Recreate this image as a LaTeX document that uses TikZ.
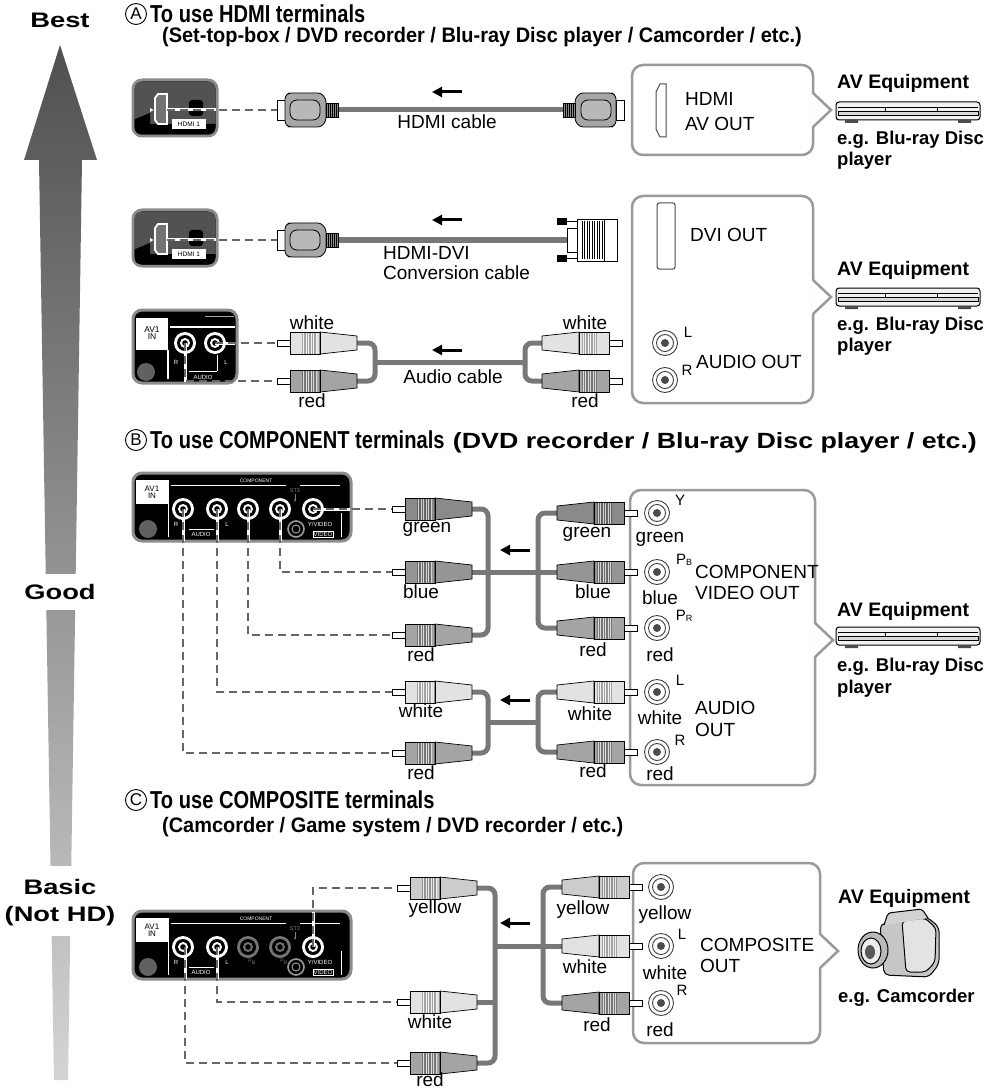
\documentclass[tikz,border=0pt]{standalone}
\usepackage{fontspec}
\usepackage{graphicx}
\setmainfont{Liberation Sans}
\newfontfamily\titlefont[FakeStretch=0.82]{Liberation Sans}
\newfontfamily\subfont[FakeStretch=0.95]{Liberation Sans}
\newfontfamily\widefont[FakeStretch=1.3]{Liberation Sans}
\usetikzlibrary{arrows.meta}
\definecolor{cablegray}{HTML}{787878}
\definecolor{dashgray}{HTML}{666666}
\definecolor{boxgray}{HTML}{9A9A9A}
\definecolor{arrowtop}{HTML}{505050}
\definecolor{arrowbot}{HTML}{D4D4D4}
\definecolor{pwhite}{HTML}{E2E2E2}
\definecolor{pred}{HTML}{A4A4A4}
\definecolor{pgreen}{HTML}{8A8A8A}
\definecolor{pblue}{HTML}{959595}
\definecolor{pyellow}{HTML}{CCCCCC}
\definecolor{panelrim}{HTML}{8C8C8C}
\tikzset{
 lbl/.style={font=\fontsize{19}{21}\selectfont, inner sep=0pt},
 wlbl/.style={lbl, anchor=west},
 suplbl/.style={font=\fontsize{15}{15}\selectfont, inner sep=0pt},
 eqlbl/.style={font=\bfseries\fontsize{19.5}{22}\selectfont, inner sep=0pt, anchor=west},
 eglbl/.style={font=\bfseries\fontsize{18.5}{21}\selectfont, inner sep=0pt, anchor=west},
 tinylbl/.style={font=\fontsize{6}{7}\selectfont, inner sep=0pt, text=white},
 cable/.style={draw=cablegray, line width=5pt, rounded corners=7pt},
 dline/.style={draw=dashgray, line width=2.6pt, dash pattern=on 8pt off 5pt},
 wline/.style={draw=white, line width=3pt},
 outbox/.style={draw=boxgray, line width=2.5pt, rounded corners=11pt, fill=white},
 larrow/.style={line width=3pt, -{Triangle[length=10pt,width=10pt]}},
 panel/.style={fill=black, draw=panelrim, line width=3pt, rounded corners=9pt},
 bigtitle/.style={font=\titlefont\bfseries\fontsize{24.5}{26}\selectfont, inner sep=0pt, anchor=west},
 subtitle/.style={font=\subfont\bfseries\fontsize{21}{23}\selectfont, inner sep=0pt, anchor=west},
 circletter/.style={circle, draw, line width=0.9pt, minimum size=21pt, inner sep=0pt, font=\fontsize{17}{17}\selectfont},
 sidelbl/.style={font=\widefont\bfseries\fontsize{21}{27}\selectfont, inner sep=0pt, align=center},
}
% RCA plug: pin tip at (x,y); dir 1 = body extends right, -1 = left
\newcommand\rcaplug[4]{%
 \begin{scope}[shift={(#1,#2)}, xscale=#3]
 \draw[line width=0.6pt, fill=white] (0,-2.8) rectangle (13,2.8);
 \draw[line width=0.7pt, fill=#4] (13,-11) rectangle (43,11);
 \fill[#4!72!black] (25,-11) rectangle (40,11);
 \foreach \i in {26.5,29,...,39} \draw[line width=0.5pt, draw=#4!40] (\i,-11)--(\i,11);
 \draw[line width=0.7pt, fill=#4] (43,-11) -- (80,-7) -- (80,7) -- (43,11) -- cycle;
 \draw[line width=0.7pt] (13,-11) rectangle (43,11);
 \end{scope}}
\newcommand\hdmiplug[3]{%
 \begin{scope}[shift={(#1,#2)}, xscale=#3]
 \draw[line width=0.7pt, fill=white] (0,-10) rectangle (8,10);
 \draw[line width=0.8pt, fill=black!35, rounded corners=3pt] (8,-14) -- (12,-17) -- (44,-17) -- (49,-11) -- (49,11) -- (44,17) -- (12,17) -- (8,14) -- cycle;
 \draw[line width=0.8pt, fill=black!28, rounded corners=7pt] (13,-10) rectangle (43,10);
 \draw[line width=0.7pt, fill=black!45] (49,-7) rectangle (61,7);
 \foreach \i in {51,53,...,59} \draw[line width=0.4pt] (\i,-7)--(\i,7);
 \end{scope}}
\newcommand\dviplug[2]{%
 \begin{scope}[shift={(#1,#2)}]
 \fill (0,-22) rectangle (10,-15); \fill (0,15) rectangle (10,22);
 \draw[line width=0.8pt] (10,-18.5) -- (20,-18.5) (10,18.5) -- (20,18.5);
 \draw[line width=0.8pt, fill=white] (10,-12) rectangle (20,12);
 \draw[line width=0.9pt, fill=white] (20,-21) rectangle (60,21);
 \foreach \i in {25,27.5,...,45} \draw[line width=0.6pt] (\i,-19) -- (\i,19);
 \draw[line width=0.8pt] (47,-21) -- (47,21);
 \end{scope}}
\newcommand\tvjack[3][white]{%
 \fill[#1] (#2,#3) circle[radius=11pt];
 \fill[black] (#2,#3) circle[radius=8pt];
 \fill[#1] (#2,#3) circle[radius=5pt];
 \fill[black] (#2,#3) circle[radius=2.8pt];}
\newcommand\outjack[2]{%
 \draw[line width=0.9pt, draw=black!75, fill=white] (#1,#2) circle[radius=12.5pt];
 \draw[line width=0.9pt, draw=black!75] (#1,#2) circle[radius=8.5pt];
 \fill[black!70] (#1,#2) circle[radius=4pt];}
\newcommand\pointer[2]{%
 \fill[white] ({#1-1.6},{#2-17}) -- ({#1+18},#2) -- ({#1-1.6},{#2+17}) -- cycle;
 \draw[boxgray, line width=2.5pt, line join=miter] (#1,{#2-17}) -- ({#1+18},#2) -- (#1,{#2+17});}
\newcommand\player[1]{%
 \draw[line width=1pt, fill=gray!10, rounded corners=3pt] (836,#1) rectangle (980,{#1+18});
 \draw[line width=0.8pt] (838,{#1+5}) -- (978,{#1+5});
 \draw[line width=0.8pt, fill=gray!30] (838,{#1+9}) rectangle (978,{#1+13});
 \draw[line width=0.8pt] (885,{#1+5}) -- (885,{#1+9}) (937,{#1+5}) -- (937,{#1+9});
 \fill[black!70] (845,{#1+18}) rectangle (858,{#1+21}) (958,{#1+18}) rectangle (971,{#1+21});}
\newcommand\hdmipanel[2]{%
 \draw[panel] (133,#2) rectangle (217,{#2+56});
 \begin{scope}
 \clip[rounded corners=7pt] (134.5,{#2+1.5}) rectangle (215.5,{#2+54.5});
 \fill[black!68] (133,#2) rectangle (217,{#2+56});
 \fill[black] (133,{#2+56}) -- (133,{#2+40}) -- (150,{#2+33}) -- (150,{#2+44}) -- (217,{#2+44}) -- (217,{#2+56}) -- cycle;
 \fill[black, rounded corners=3pt] (189,{#2+20}) rectangle (203,{#2+36});
 \end{scope}
 \draw[white, line width=1.8pt, fill=black!55] (158,{#2+14}) -- (167,{#2+14}) -- (167,{#2+44}) -- (158,{#2+44}) -- (155,{#2+40}) -- (155,{#2+18}) -- cycle;
 \fill[white] (150,{#2+28}) -- (153.5,{#2+30}) -- (150,{#2+32}) -- cycle;
 \fill[white] (172,{#2+39}) rectangle (206,{#2+49});
 \node[font=\fontsize{6.5}{7}\selectfont, inner sep=0pt] (#1) at (189,{#2+44}) {HDMI 1};}
\newcommand\comppanel[3]{%
 \draw[panel] (133,#2) rectangle (351,{#2+68});
 \fill[black!62] (148,{#2+56}) circle[radius=9pt];
 \fill[white] (136,{#2+7}) rectangle (168,{#2+31});
 \node[font=\fontsize{8}{8}\selectfont, align=center, inner sep=0pt] (#1av) at (152,{#2+19}) {AV1\\[-1pt]IN};
 \draw[white, line width=1pt] (168,{#2+7}) -- (168,{#2+64});
 \draw[white, line width=1pt] (171,{#2+12}) -- (286,{#2+12}) (300,{#2+12}) -- (340,{#2+12});
 \node[tinylbl, font=\fontsize{5}{5}\selectfont] (#1cp) at (256,{#2+8}) {COMPONENT};
 \node[tinylbl, text=gray, font=\fontsize{5.5}{5}\selectfont] (#1st) at (295,{#2+18}) {ST3};
 \draw[gray, line width=0.7pt, -{Stealth[length=3pt]}] (295,{#2+21}) -- (295,{#2+29});
 \tvjack{183}{#2+36} \tvjack{217}{#2+36} \tvjack[#3]{248}{#2+36} \tvjack[#3]{280}{#2+36} \tvjack{313}{#2+36}
 \draw[gray!80, line width=1.6pt] (296,{#2+56}) circle[radius=8pt];
 \draw[gray!80, line width=1pt] (296,{#2+56}) circle[radius=4pt];
 \node[tinylbl] (#1r) at (176,{#2+51}) {R};
 \node[tinylbl] (#1l) at (227,{#2+51}) {L};
 \node[tinylbl] (#1au) at (201,{#2+61}) {AUDIO};
 \draw[white, line width=0.8pt] (189,{#2+56}) -- (214,{#2+56});
 \node[tinylbl] (#1yv) at (320,{#2+51}) {Y/VIDEO};
 \node[tinylbl, draw=white, line width=0.6pt, inner sep=0.8pt] (#1vd) at (323,{#2+61}) {VIDEO};
 \draw[white, line width=1pt] (341,{#2+40}) -- (341,{#2+64});}
\begin{document}
\begin{tikzpicture}[x=1pt,y=-1pt]
\useasboundingbox[fill=white] (0,0) rectangle (992,1091);
% ---------- quality arrow ----------
\shade[top color=arrowtop, bottom color=arrowbot] (60,45) -- (97,160) -- (82,160) -- (68,1080) -- (54,1080) -- (39,160) -- (24,160) -- cycle;
\fill[white] (0,574) rectangle (120,610);
\fill[white] (0,866) rectangle (120,936);
\node[sidelbl] (best) at (60,20) {Best};
\node[sidelbl] (good) at (60,592) {Good};
\node[sidelbl] (basic) at (60,903) {Basic\\(Not HD)};
% ---------- headers ----------
\node[circletter] (cA) at (136,14) {A};
\node[bigtitle] (tA) at (150,14) {To use HDMI terminals};
\node[subtitle] (sA) at (162,37) {(Set-top-box / DVD recorder / Blu-ray Disc player / Camcorder / etc.)};
\node[circletter] (cB) at (136,440) {B};
\node[bigtitle] (tB) at (150,440) {To use COMPONENT terminals};
\node[subtitle, font=\subfont\bfseries\fontsize{22}{24}\selectfont, anchor=base west] (sB) at ([xshift=8pt]tB.base east) {\resizebox{524pt}{\height}{(DVD recorder / Blu-ray Disc player / etc.)}};
\node[circletter] (cC) at (136,800) {C};
\node[bigtitle] (tC) at (150,800) {To use COMPOSITE terminals};
\node[subtitle] (sC) at (162,827) {(Camcorder / Game system / DVD recorder / etc.)};
% ---------- boxes ----------
\draw[outbox] (632,65) rectangle (813,155); \pointer{813}{110}
\draw[outbox] (632,196) rectangle (813,403); \pointer{813}{297}
\draw[outbox] (630,490) rectangle (815,785); \pointer{815}{640}
\draw[outbox] (633,863) rectangle (820,1043); \pointer{820}{951}
% ---------- A row 1: HDMI ----------
\hdmipanel{hp1}{80}
\coordinate (p1) at (167,110); \coordinate (q1) at (277,110);
\draw[wline] (p1) -- (216,110);
\draw[dline] (p1) -- (q1);
\draw[cable] (338,110) -- (563,110);
\hdmiplug{277}{110}{1}
\hdmiplug{624}{110}{-1}
\draw[larrow] (462,92) -- (432,92);
\node[lbl] (hc) at (447,122) {HDMI cable};
\draw[line width=1pt, draw=black!70, fill=white] (660,84) -- (666,84) -- (666,137) -- (660,137) -- (656,129) -- (656,92) -- cycle;
\node[wlbl] (hao1) at (685,99) {HDMI};
\node[wlbl] (hao2) at (685,124) {AV OUT};
\node[eqlbl] (eq1) at (837,83) {AV Equipment};
\player{102}
\node[eglbl] (eg1) at (837,140) {e.g. Blu-ray Disc};
\node[eglbl] (eg1b) at (837,161) {player};
% ---------- A row 2: HDMI-DVI ----------
\hdmipanel{hp2}{210}
\coordinate (p2) at (167,240); \coordinate (q2) at (277,240);
\draw[wline] (p2) -- (216,240);
\draw[dline] (p2) -- (q2);
\draw[cable] (338,240) -- (568,240);
\hdmiplug{277}{240}{1}
\dviplug{557}{240}
\draw[larrow] (462,220) -- (432,220);
\node[wlbl] (hd1) at (383,253) {HDMI-DVI};
\node[wlbl] (hd2) at (383,273) {Conversion cable};
\draw[line width=1pt, draw=black!70, fill=white, rounded corners=2pt] (657,203) rectangle (675,269);
\node[wlbl] (dvo) at (690,235) {DVI OUT};
\node[eqlbl] (eq2) at (837,270) {AV Equipment};
\player{288}
\node[eglbl] (eg2) at (837,326) {e.g. Blu-ray Disc};
\node[eglbl] (eg2b) at (837,347) {player};
% ---------- A row 3: audio ----------
\draw[panel] (133,310) rectangle (237,383);
\fill[black!62] (146,372) circle[radius=9pt];
\fill[white] (136,318) rectangle (168,350);
\node[font=\fontsize{8.5}{8.5}\selectfont, align=center, inner sep=0pt] (av3) at (152,333) {AV1\\[-1pt]IN};
\draw[white, line width=1.2pt] (168,350) -- (168,379);
\draw[white, line width=1.2pt] (170,327) -- (235,327);
\draw[gray!70, line width=1pt] (205,316) -- (234,316);
\tvjack{185}{343} \tvjack{215}{343}
\node[tinylbl] (ar) at (176,362) {R};
\node[tinylbl] (al) at (226,362) {L};
\node[tinylbl] (aau) at (203,377) {AUDIO};
\draw[white, line width=0.8pt] (189,371) -- (217,371) (217,355) -- (217,371);
\coordinate (jl) at (215,343); \coordinate (jr) at (185,343);
\draw[wline] (jl) -- (235,343);
\draw[wline] (jr) -- (185,382);
\draw[dline] (jl) -- (277,343);
\draw[dline] (jr) -- (185,381) -- (277,381);
\draw[cable] (357,343) -- (375,343) -- (375,381) -- (357,381);
\draw[cable] (375,362) -- (525,362);
\draw[cable] (542,343) -- (525,343) -- (525,381) -- (542,381);
\rcaplug{277}{343}{1}{pwhite}
\rcaplug{277}{381}{1}{pred}
\rcaplug{622}{343}{-1}{pwhite}
\rcaplug{622}{381}{-1}{pred}
\draw[larrow] (462,350) -- (432,350);
\node[lbl] (w3a) at (312,323) {white};
\node[lbl] (r3a) at (312,401) {red};
\node[lbl] (w3b) at (585,323) {white};
\node[lbl] (r3b) at (585,401) {red};
\node[lbl] (ac) at (453,377) {Audio cable};
\outjack{665}{343} \outjack{665}{380}
\node[suplbl] (aol) at (688,332) {L};
\node[suplbl] (aor) at (687,370) {R};
\node[wlbl] (ao) at (696,362) {AUDIO OUT};
% ---------- B: component ----------
\comppanel{b}{473}{white}
\draw[wline] (313,509) -- (350,509);
\draw[wline] (280,509) -- (280,541);
\draw[wline] (248,509) -- (248,541);
\draw[wline] (217,509) -- (217,541);
\draw[wline] (183,509) -- (183,541);
\draw[dline] (313,509) -- (392,509);
\draw[dline] (280,509) -- (280,572) -- (392,572);
\draw[dline] (248,509) -- (248,635) -- (392,635);
\draw[dline] (217,509) -- (217,692) -- (392,692);
\draw[dline] (183,509) -- (183,753) -- (392,753);
\draw[cable] (470,509) -- (488,509) -- (488,635) -- (470,635);
\draw[cable] (470,572) -- (557,572);
\draw[cable] (557,513) -- (538,513) -- (538,628) -- (557,628);
\draw[cable] (470,692) -- (488,692) -- (488,753) -- (470,753);
\draw[cable] (488,722) -- (538,722);
\draw[cable] (557,692) -- (538,692) -- (538,752) -- (557,752);
\rcaplug{392}{509}{1}{pgreen}
\rcaplug{392}{572}{1}{pblue}
\rcaplug{392}{635}{1}{pred}
\rcaplug{392}{692}{1}{pwhite}
\rcaplug{392}{753}{1}{pred}
\rcaplug{637}{513}{-1}{pgreen}
\rcaplug{637}{572}{-1}{pblue}
\rcaplug{637}{628}{-1}{pred}
\rcaplug{637}{692}{-1}{pwhite}
\rcaplug{637}{752}{-1}{pred}
\draw[larrow] (530,550) -- (500,550);
\draw[larrow] (530,700) -- (500,700);
\node[lbl] (bl1) at (427,529) {green};
\node[lbl] (bl2) at (421,592) {blue};
\node[lbl] (bl3) at (421,655) {red};
\node[lbl] (bl4) at (421,711) {white};
\node[lbl] (bl5) at (421,773) {red};
\node[lbl] (br1) at (587,534) {green};
\node[lbl] (br2) at (593,592) {blue};
\node[lbl] (br3) at (593,650) {red};
\node[lbl] (br4) at (590,714) {white};
\node[lbl] (br5) at (593,771) {red};
\outjack{657}{513} \outjack{657}{572} \outjack{657}{628} \outjack{657}{692} \outjack{657}{752}
\node[lbl] (bj1) at (660,539) {green};
\node[lbl] (bj2) at (660,598) {blue};
\node[lbl] (bj3) at (660,655) {red};
\node[lbl] (bj4) at (660,718) {white};
\node[lbl] (bj5) at (660,774) {red};
\node[suplbl] (bs1) at (680,500) {Y};
\node[suplbl] (bs2) at (684,560) {P\raisebox{-1pt}{\fontsize{9}{9}\selectfont B}};
\node[suplbl] (bs3) at (684,616) {P\raisebox{-1pt}{\fontsize{9}{9}\selectfont R}};
\node[suplbl] (bs4) at (680,680) {L};
\node[suplbl] (bs5) at (680,740) {R};
\node[wlbl] (cvo1) at (695,572) {COMPONENT};
\node[wlbl] (cvo2) at (695,593) {VIDEO OUT};
\node[wlbl] (bao1) at (695,708) {AUDIO};
\node[wlbl] (bao2) at (695,730) {OUT};
\node[eqlbl] (eq3) at (837,611) {AV Equipment};
\player{627}
\node[eglbl] (eg3) at (837,667) {e.g. Blu-ray Disc};
\node[eglbl] (eg3b) at (837,689) {player};
% ---------- C: composite ----------
\comppanel{c}{911}{black!55}
\node[tinylbl, text=gray, font=\fontsize{5}{5}\selectfont] (cpb) at (252,962) {P\textsubscript{B}};
\node[tinylbl, text=gray, font=\fontsize{5}{5}\selectfont] (cpr) at (284,962) {P\textsubscript{R}};
\draw[wline] (313,947) -- (313,912);
\draw[wline] (217,947) -- (217,979);
\draw[wline] (185,947) -- (185,979);
\draw[dline] (313,947) -- (313,888) -- (397,888);
\draw[dline] (217,947) -- (217,1002) -- (397,1002);
\draw[dline] (185,947) -- (185,1063) -- (397,1063);
\draw[cable] (475,888) -- (495,888) -- (495,1063) -- (475,1063);
\draw[cable] (475,1002) -- (495,1002);
\draw[cable] (495,946) -- (562,946);
\draw[cable] (562,887) -- (543,887) -- (543,1003) -- (562,1003);
\rcaplug{397}{888}{1}{pyellow}
\rcaplug{397}{1002}{1}{pwhite}
\rcaplug{397}{1063}{1}{pred}
\rcaplug{642}{887}{-1}{pyellow}
\rcaplug{642}{946}{-1}{pwhite}
\rcaplug{642}{1003}{-1}{pred}
\draw[larrow] (530,923) -- (500,923);
\node[lbl] (cl1) at (435,909) {yellow};
\node[lbl] (cl2) at (430,1022) {white};
\node[lbl] (cl3) at (430,1080) {red};
\node[lbl] (cr1) at (583,910) {yellow};
\node[lbl] (cr2) at (585,967) {white};
\node[lbl] (cr3) at (597,1025) {red};
\outjack{661}{887} \outjack{661}{946} \outjack{661}{1003}
\node[lbl] (cj1) at (665,915) {yellow};
\node[lbl] (cj2) at (665,973) {white};
\node[lbl] (cj3) at (660,1030) {red};
\node[suplbl] (cs1) at (682,934) {L};
\node[suplbl] (cs2) at (682,990) {R};
\node[wlbl] (cco1) at (700,945) {COMPOSITE};
\node[wlbl] (cco2) at (700,966) {OUT};
\node[eqlbl] (eq4) at (838,898) {AV Equipment};
\draw[line width=1pt, fill=gray!45, rounded corners=5pt] (880,924) -- (927,917) -- (939,927) -- (939,964) -- (929,977) -- (884,975) -- cycle;
\draw[line width=1pt, fill=gray!22, rounded corners=4pt] (902,921) -- (925,918) -- (936,928) -- (935,962) -- (926,972) -- (906,972) -- cycle;
\draw[line width=1pt, fill=gray!35, rounded corners=3pt] (884,925) -- (888,913) -- (922,909) -- (928,918);
\draw[line width=1pt, fill=gray!55] (873,950) ellipse[x radius=15pt, y radius=18pt];
\draw[line width=1pt, fill=gray!15] (871,951) ellipse[x radius=10pt, y radius=13pt];
\fill[gray!70!black] (870,952) ellipse[x radius=5pt, y radius=7pt];
\node[eglbl] (eg4) at (838,998) {e.g. Camcorder};
\end{tikzpicture}
\end{document}
